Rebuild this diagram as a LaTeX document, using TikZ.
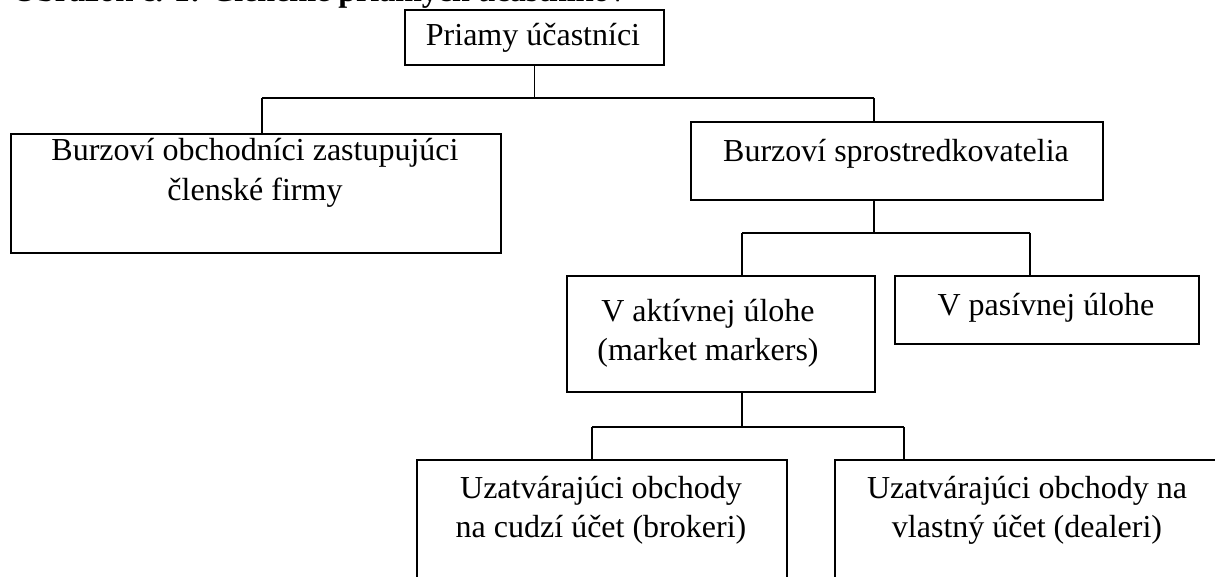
\documentclass[tikz,border=0pt]{standalone}
\usepackage{fontspec}
\setmainfont{Liberation Serif}
\begin{document}
\begin{tikzpicture}[x=1pt,y=-1pt,
  box/.style={draw, line width=1.6pt, inner sep=0pt, anchor=north west},
  lbl/.style={font=\fontsize{32}{40}\selectfont, anchor=base, inner sep=0pt},
  conn/.style={line width=1.6pt}]
\useasboundingbox (0,0) rectangle (1215,577);
\clip (0,0) rectangle (1215,577);
% caption (cut off at top, as in the reference)
\node[font=\bfseries\fontsize{32}{40}\selectfont, anchor=base west, inner sep=0pt] (cap) at (12,2) {Obrázok č. 1: Členenie priamych účastníkov};
% boxes
\node[box, minimum width=259pt, minimum height=55pt] (top) at (404,9) {};
\node[box, minimum width=490pt, minimum height=119pt] (left) at (10,133) {};
\node[box, minimum width=412pt, minimum height=78pt] (spros) at (690,121) {};
\node[box, minimum width=308pt, minimum height=116pt] (akt) at (566,275) {};
\node[box, minimum width=304pt, minimum height=68pt] (pas) at (894,275) {};
\node[box, minimum width=370pt, minimum height=140pt] (brok) at (416,459) {};
\node[box, minimum width=386pt, minimum height=140pt] (deal) at (834,459) {};
% texts
\node[lbl] (t1) at (533,46) {Priamy účastníci};
\node[lbl] (t2a) at (255,161) {Burzoví obchodníci zastupujúci};
\node[lbl] (t2b) at (255,201) {členské firmy};
\node[lbl] (t3) at (896,162) {Burzoví sprostredkovatelia};
\node[lbl] (t4a) at (708,321) {V aktívnej úlohe};
\node[lbl] (t4b) at (708,360) {(market markers)};
\node[lbl] (t5) at (1046,315) {V pasívnej úlohe};
\node[lbl] (t6a) at (601,498) {Uzatvárajúci obchody};
\node[lbl] (t6b) at (601,537) {na cudzí účet (brokeri)};
\node[lbl] (t7a) at (1027,498) {Uzatvárajúci obchody na};
\node[lbl] (t7b) at (1027,537) {vlastný účet (dealeri)};
% junction coordinates
\coordinate (aL) at (262,98);
\coordinate (aR) at (874,98);
\coordinate (bL) at (742,233);
\coordinate (bR) at (1030,233);
\coordinate (cL) at (592,427);
\coordinate (cR) at (904,427);
% connectors
\draw[conn] (top.south) -- (top.south |- aL);
\draw[line width=2.2pt] (aL) -- (aR);
\draw[conn] (aL) -- (aL |- left.north);
\draw[conn] (aR) -- (aR |- spros.north);
\draw[conn] (aR |- spros.south) -- (aR |- bL);
\draw[conn] (bL) -- (bR);
\draw[conn] (bL) -- (bL |- akt.north);
\draw[conn] (bR) -- (bR |- pas.north);
\draw[conn] (bL |- akt.south) -- (bL |- cL);
\draw[conn] (cL) -- (cR);
\draw[conn] (cL) -- (cL |- brok.north);
\draw[conn] (cR) -- (cR |- deal.north);
\end{tikzpicture}
\end{document}
